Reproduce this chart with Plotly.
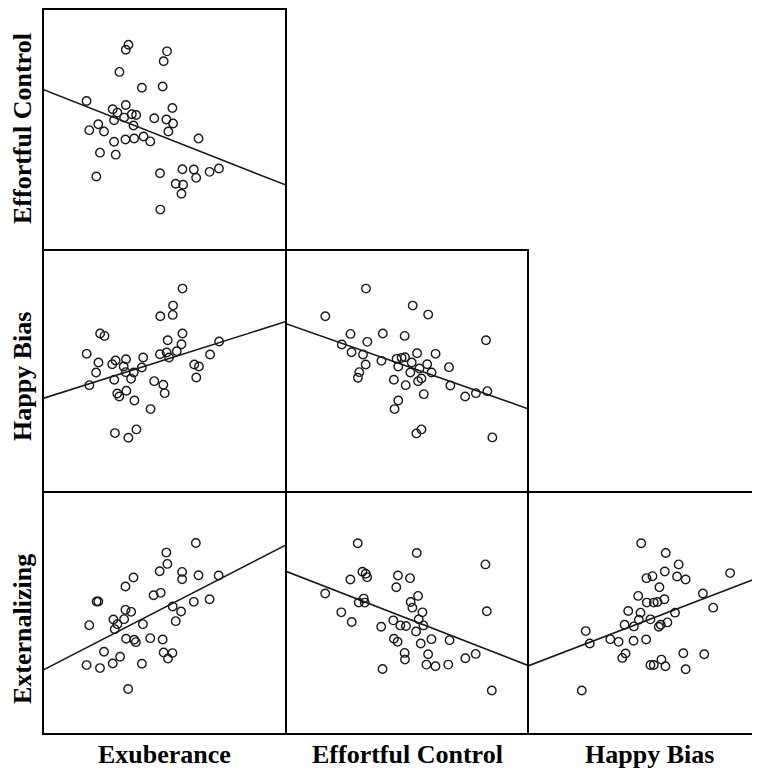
import numpy as np
import plotly.graph_objects as go

W, H = 760, 775
OFF = 8  # the page body has a default 8px margin; the figure is shifted by it

# ---------------- data (arbitrary units) ----------------
# Row 1: Effortful Control (y) vs Exuberance (x)
ec_vs_exu_x = [26.5, 25.7, 38.0, 37.0, 23.8, 30.5, 36.7, 14.0, 25.7, 21.8, 23.2, 39.6, 27.5, 28.8, 25.2,
               22.2, 34.2, 37.8, 39.8, 17.5, 28.0, 14.8, 19.2, 38.4, 47.4, 22.2, 25.6, 28.2, 31.0, 33.0,
               18.0, 22.7, 42.6, 46.0, 50.7, 53.5, 35.9, 46.7, 16.9, 40.6, 42.8, 42.3, 36.0]
ec_vs_exu_y = [62.0, 60.5, 60.0, 57.0, 53.8, 49.0, 49.4, 45.0, 43.8, 42.5, 41.5, 42.9, 41.0, 40.8, 40.0,
               39.2, 39.8, 39.4, 38.2, 38.0, 37.6, 36.2, 35.8, 35.8, 33.7, 32.7, 33.4, 33.7, 34.3, 32.8,
               29.4, 28.8, 24.4, 24.3, 23.6, 24.6, 23.2, 21.8, 22.2, 20.0, 19.7, 17.0, 12.2]

# Row 2: Happy Bias (y) vs Exuberance (x)
hb_vs_exu_x = [42.5, 39.7, 39.6, 35.9, 18.0, 19.3, 42.5, 38.1, 42.2, 53.4, 14.0, 35.8, 37.8, 40.8, 38.5,
               50.7, 30.8, 25.7, 22.6, 21.6, 17.5, 25.0, 30.4, 46.0, 47.4, 16.8, 25.6, 28.0, 27.2, 22.2,
               14.8, 34.1, 36.8, 46.6, 25.8, 23.1, 23.7, 37.2, 28.2, 33.0, 28.8, 22.4, 26.4]
hb_vs_exu_y = [61.1, 56.0, 53.2, 52.8, 47.6, 46.9, 47.6, 45.6, 44.4, 45.2, 41.5, 41.4, 41.9, 42.3, 40.4,
               41.3, 40.4, 39.9, 39.5, 38.4, 38.9, 37.7, 37.4, 38.3, 37.7, 35.9, 36.0, 35.9, 34.0, 33.7,
               32.1, 33.3, 32.2, 34.4, 30.4, 29.6, 28.7, 29.7, 27.5, 24.9, 18.8, 17.7, 16.3]

# Row 2: Happy Bias (y) vs Effortful Control (x)
hb_vs_ec_x = [24.6, 38.5, 43.1, 12.5, 20.0, 29.6, 36.1, 60.3, 25.0, 17.4, 20.3, 23.7, 39.8, 45.3, 33.7,
              35.2, 36.2, 29.2, 24.5, 38.2, 42.8, 34.2, 40.5, 49.3, 37.8, 44.1, 22.6, 22.2, 32.9, 41.1,
              40.1, 36.4, 49.7, 41.8, 54.1, 57.3, 60.7, 34.2, 33.1, 41.1, 39.6, 62.2]
hb_vs_ec_y = [61.1, 56.0, 53.3, 52.8, 47.5, 47.6, 46.9, 45.6, 45.1, 44.3, 42.0, 41.3, 41.7, 41.5, 40.0,
              40.3, 40.5, 39.4, 38.3, 38.9, 38.4, 37.7, 37.1, 37.5, 35.9, 35.9, 36.0, 34.3, 33.7, 34.1,
              33.3, 32.1, 32.0, 29.4, 28.7, 29.7, 30.3, 27.5, 24.9, 18.8, 17.6, 16.4]

# Row 3: Externalizing (y) vs Exuberance (x)
ext_vs_exu_x = [46.6, 37.8, 38.1, 35.8, 42.5, 42.5, 47.4, 53.4, 28.0, 25.6, 34.0, 36.1, 17.0, 17.5, 46.0,
                50.7, 25.6, 27.3, 39.7, 42.2, 22.0, 25.2, 14.8, 23.2, 22.4, 30.8, 40.6, 25.8, 28.2, 28.7,
                33.0, 36.7, 19.2, 37.0, 39.6, 38.3, 24.0, 21.8, 14.0, 18.0, 30.5, 26.4]
ext_vs_exu_y = [57.4, 54.5, 51.1, 48.9, 48.7, 46.5, 47.7, 47.6, 47.0, 44.3, 41.7, 42.4, 39.8, 39.8, 39.7,
                40.5, 37.3, 36.7, 38.3, 36.8, 34.4, 34.5, 32.7, 33.0, 31.5, 33.0, 33.9, 28.6, 28.3, 27.6,
                28.8, 28.4, 24.7, 24.5, 24.3, 22.7, 23.2, 21.2, 20.7, 19.8, 21.1, 13.5]

# Row 3: Externalizing (y) vs Effortful Control (x)
ext_vs_ec_x = [22.2, 39.8, 60.3, 23.6, 24.6, 25.0, 34.2, 37.8, 20.0, 33.7, 12.5, 40.2, 24.0, 22.5, 24.3,
               38.0, 38.5, 41.5, 60.7, 17.3, 20.4, 32.8, 40.4, 29.2, 34.9, 36.6, 41.8, 39.6, 33.0, 34.1,
               44.2, 49.6, 41.0, 36.2, 36.3, 43.2, 54.3, 57.4, 42.7, 45.4, 49.2, 29.6, 62.2]
ext_vs_ec_y = [56.9, 54.0, 50.6, 48.4, 47.8, 46.8, 47.3, 46.5, 46.1, 43.8, 41.9, 41.2, 40.4, 39.2, 39.2,
               39.4, 37.7, 36.3, 36.6, 36.3, 33.4, 33.9, 34.2, 32.0, 32.4, 32.2, 32.4, 30.6, 28.4, 27.5,
               28.3, 28.0, 27.0, 24.2, 22.2, 23.8, 22.6, 23.9, 20.7, 20.2, 20.7, 19.4, 13.0]

# Row 3: Externalizing (y) vs Happy Bias (x)
ext_vs_hb_x = [34.7, 42.1, 46.0, 36.3, 38.1, 41.8, 45.5, 48.1, 61.5, 40.2, 33.8, 36.4, 38.5, 39.6, 41.7,
               53.3, 30.8, 34.5, 34.0, 37.5, 44.9, 56.4, 18.0, 29.7, 32.5, 40.0, 40.6, 42.6, 19.2, 25.4,
               27.9, 32.4, 36.2, 30.0, 29.0, 37.5, 38.5, 40.8, 42.0, 47.4, 53.7, 48.1, 16.8]
ext_vs_hb_y = [56.9, 54.0, 50.6, 46.5, 47.1, 48.5, 47.0, 46.1, 48.0, 43.8, 41.2, 39.2, 39.2, 39.4, 40.2,
               41.9, 36.7, 36.2, 34.1, 34.2, 36.2, 37.7, 30.7, 32.6, 32.1, 32.0, 32.6, 33.3, 27.0, 28.3,
               27.5, 27.8, 28.2, 24.0, 22.7, 20.6, 20.6, 22.2, 20.2, 24.1, 23.8, 19.3, 13.0]

col_labels = ["Exuberance", "Effortful Control", "Happy Bias"]
row_labels = ["Effortful Control", "Happy Bias", "Externalizing"]

# ---------------- layout geometry (page pixels) ----------------
col_px = [(43, 286), (286, 528), (528, 770)]
row_px = [(9, 250), (250, 492), (492, 734)]

FW, FH = W - OFF, H - OFF


def px_x(p):
    return (p - OFF) / FW


def px_y(p):
    return 1 - (p - OFF) / FH


panels = [
    # (row, col, x, y, xrange, yrange)
    (0, 0, ec_vs_exu_x, ec_vs_exu_y, [1.0, 73.5], [0, 72.8]),
    (1, 0, hb_vs_exu_x, hb_vs_exu_y, [1.0, 73.3], [0, 72.7]),
    (1, 1, hb_vs_ec_x, hb_vs_ec_y, [0.8, 72.8], [0, 72.7]),
    (2, 0, ext_vs_exu_x, ext_vs_exu_y, [1.0, 73.5], [0, 72.7]),
    (2, 1, ext_vs_ec_x, ext_vs_ec_y, [0.8, 73.0], [0, 72.2]),
    (2, 2, ext_vs_hb_x, ext_vs_hb_y, [0.6, 70.5], [0, 72.2]),
]

fig = go.Figure()
layout = dict(
    width=FW, height=FH,
    margin=dict(l=0, r=0, t=0, b=0),
    paper_bgcolor="white", plot_bgcolor="white",
    showlegend=False,
    shapes=[], annotations=[],
)

ink = "#1a1a1a"

for i, (r, c, xs, ys, xr, yr) in enumerate(panels):
    k = "" if i == 0 else str(i + 1)
    xa, ya = "x" + k, "y" + k
    x0, x1 = col_px[c]
    y0, y1 = row_px[r]
    xd = [px_x(x0), min(1.0, px_x(x1))]
    yd = [px_y(y1), px_y(y0)]
    axcommon = dict(showgrid=False, zeroline=False, showticklabels=False, ticks="",
                    showline=False, fixedrange=True)
    layout["xaxis" + k] = dict(domain=xd, range=xr, anchor=ya, **axcommon)
    layout["yaxis" + k] = dict(domain=yd, range=yr, anchor=xa, **axcommon)

    xs_a = np.array(xs)
    ys_a = np.array(ys)
    slope, intercept = np.polyfit(xs_a, ys_a, 1)
    lx = np.array(xr)
    fig.add_trace(go.Scatter(x=lx, y=intercept + slope * lx, mode="lines",
                             line=dict(color=ink, width=1.6), xaxis=xa, yaxis=ya,
                             hoverinfo="skip", cliponaxis=True))
    fig.add_trace(go.Scatter(x=xs, y=ys, mode="markers",
                             marker=dict(symbol="circle-open", size=8.5, color=ink,
                                         line=dict(width=1.4, color=ink)),
                             xaxis=xa, yaxis=ya))

    layout["shapes"].append(dict(type="rect", xref="paper", yref="paper",
                                 x0=px_x(x0), x1=px_x(x1), y0=px_y(y1), y1=px_y(y0),
                                 line=dict(color="black", width=2), layer="above"))

font = dict(family="Liberation Serif, Times New Roman, serif", size=26, color="black")
for c, lab in enumerate(col_labels):
    x0, x1 = col_px[c]
    layout["annotations"].append(dict(text="<b>%s</b>" % lab, xref="paper", yref="paper",
                                      x=px_x((x0 + x1) / 2), y=px_y(754), xanchor="center",
                                      yanchor="middle", showarrow=False, font=font))
row_label_center = [129, 377, 629]
for r, lab in enumerate(row_labels):
    layout["annotations"].append(dict(text="<b>%s</b>" % lab, xref="paper", yref="paper",
                                      x=px_x(22), y=px_y(row_label_center[r]), xanchor="center",
                                      yanchor="middle", textangle=-90, showarrow=False, font=font))

fig.update_layout(**layout)
fig.write_html("out.html")
